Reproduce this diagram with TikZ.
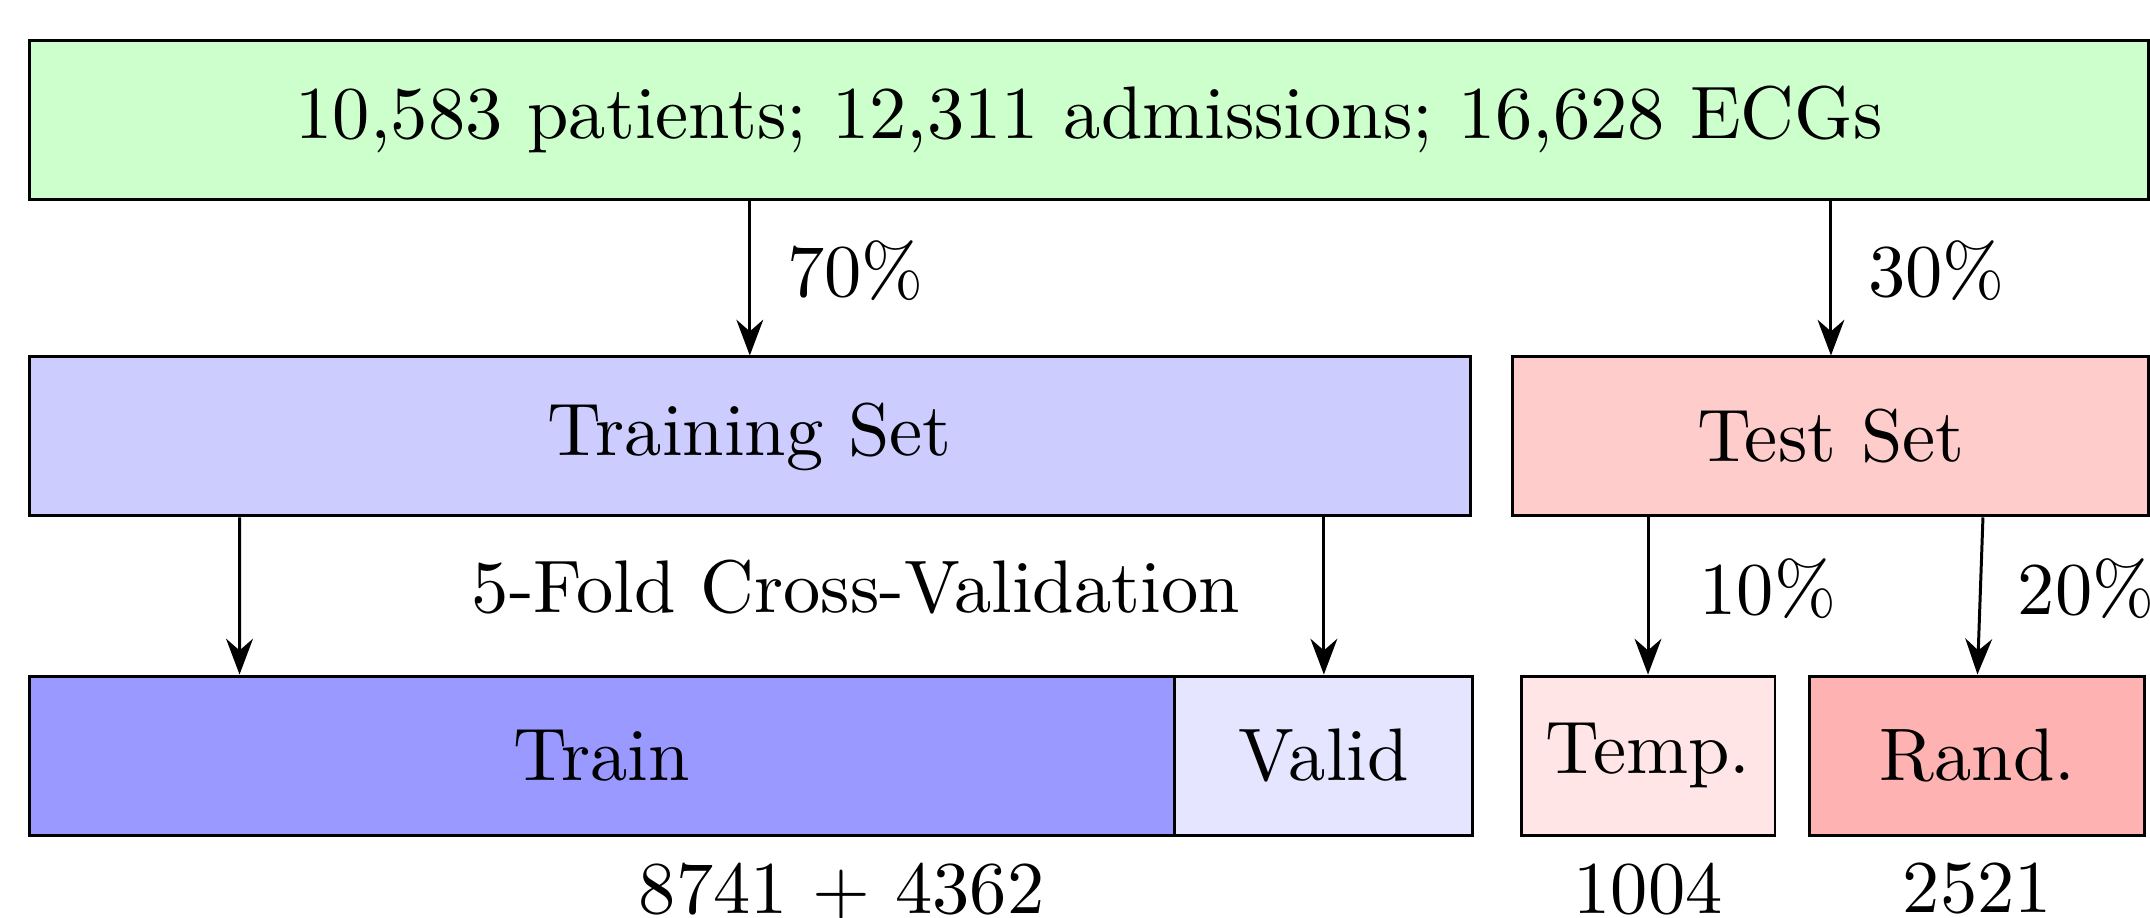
\documentclass[tikz,border=0pt]{standalone}
\usetikzlibrary{arrows.meta}

\begin{document}
\begin{tikzpicture}[
    box/.style={draw, minimum height=0.75cm, inner sep=0pt},
    split/.style={-{Stealth}},
    pct/.style={right, xshift=1.5pt, pos=0.45}
]
    \useasboundingbox (-0.137,0.189) rectangle (10.005,-4.141);
    % whole cohort
    \node[box, fill=green!20, minimum width=10cm] (all) at (5,-0.375) {10,583 patients; 12,311 admissions; 16,628 ECGs};
    % first split
    \node[box, fill=blue!20, minimum width=6.8cm] (trainset) at (3.4,-1.87) {Training Set};
    \node[box, fill=red!20, minimum width=3cm] (testset) at (8.5,-1.87) {Test Set};
    % second split
    \node[box, fill=blue!40, minimum width=5.405cm] (train) at (2.7025,-3.375) {Train};
    \node[box, fill=blue!10, minimum width=1.406cm] (valid) at (6.108,-3.375) {Valid};
    \node[box, fill=red!10, minimum width=1.198cm] (temp) at (7.637,-3.375) {Temp.};
    \node[box, fill=red!30, minimum width=1.58cm] (rand) at (9.191,-3.375) {Rand.};
    % arrows
    \draw[split] (all.south -| trainset.north) -- node[pct]{70\%} (trainset.north);
    \draw[split] (all.south -| testset.north) -- node[pct]{30\%} (testset.north);
    \draw[split] ([xshift=1cm]trainset.south west) -- ([xshift=1cm]train.north west);
    \draw[split] (trainset.south -| valid.north) -- (valid.north);
    \draw[split] (testset.south -| temp.north) -- node[pct, xshift=1.9pt]{10\%} (temp.north);
    \draw[split] ([xshift=0.026cm]testset.south -| rand.north) -- node[pct]{20\%} (rand.north);
    %\draw[dashed] (train.north east) -- (train.south east);
    \node (cv) at (3.9,-2.58) {5-Fold Cross-Validation};
    % counts
    \node[below] (ntrain) at ([xshift=3.84cm]train.south west) {8741 + 4362};
    \node[below] (ntemp) at (temp.south) {1004};
    \node[below] (nrand) at (rand.south) {2521};
\end{tikzpicture}
\end{document}
